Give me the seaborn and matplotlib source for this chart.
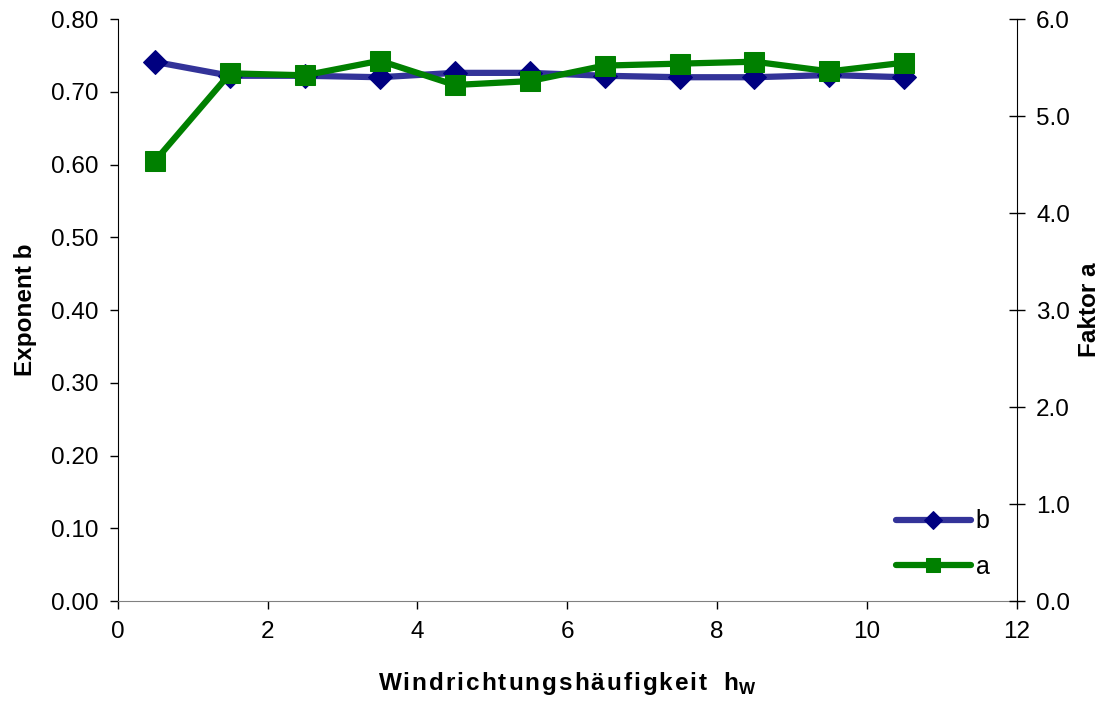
import numpy as np
import pandas as pd
import matplotlib
matplotlib.use('Agg')
import matplotlib.pyplot as plt
import seaborn as sns

# Daten
h_w = [0.5, 1.5, 2.5, 3.5, 4.5, 5.5, 6.5, 7.5, 8.5, 9.5, 10.5]
exponent_b = [0.741, 0.722, 0.722, 0.720, 0.726, 0.726, 0.722, 0.720, 0.720, 0.723, 0.720]
faktor_a = [4.54, 5.44, 5.42, 5.57, 5.32, 5.36, 5.52, 5.54, 5.56, 5.46, 5.55]

df = pd.DataFrame({'h': h_w, 'b': exponent_b, 'a': faktor_a})

sns.set_style('white')
plt.rcParams['font.family'] = ['Liberation Sans', 'DejaVu Sans']
plt.rcParams['mathtext.fontset'] = 'custom'
plt.rcParams['mathtext.rm'] = 'Liberation Sans:bold'
plt.rcParams['mathtext.bf'] = 'Liberation Sans:bold'
plt.rcParams['text.color'] = 'black'
plt.rcParams['axes.labelcolor'] = 'black'
plt.rcParams['xtick.color'] = 'black'
plt.rcParams['ytick.color'] = 'black'

fig, ax = plt.subplots(figsize=(11.11, 7.04), dpi=100)
fig.subplots_adjust(left=0.106, right=0.915, top=0.973, bottom=0.146)
ax2 = ax.twinx()

sns.lineplot(data=df, x='h', y='b', ax=ax, color='#333399', lw=4.5,
             marker='D', markersize=12, markerfacecolor='#000080',
             markeredgecolor='#000080', label='b', legend=False, zorder=3)
sns.lineplot(data=df, x='h', y='a', ax=ax2, color='#008000', lw=4.5,
             marker='s', markersize=14, markerfacecolor='#008000',
             markeredgecolor='#008000', label='a', legend=False, zorder=3)

ax.set_xlim(0, 12)
ax.set_ylim(0, 0.8)
ax2.set_ylim(0, 6)
ax.set_xticks(np.arange(0, 13, 2))
ax.set_yticks(np.arange(0, 0.81, 0.1))
ax.set_yticklabels([f'{v:.2f}' for v in np.arange(0, 0.81, 0.1)])
ax2.set_yticks(np.arange(0, 6.1, 1))
ax2.set_yticklabels([f'{v:.1f}' for v in np.arange(0, 6.1, 1)])

for a_ in (ax, ax2):
    for s in a_.spines.values():
        s.set_visible(False)
ax.spines['left'].set_visible(True)
ax.spines['left'].set_color('black')
ax.spines['bottom'].set_visible(True)
ax.spines['bottom'].set_color('#808080')
ax2.spines['right'].set_visible(True)
ax2.spines['right'].set_color('black')

ax.tick_params(axis='y', direction='out', length=6, width=1, labelsize=17.5, left=True, pad=8)
ax.tick_params(axis='x', direction='out', length=6, width=1, labelsize=17.5, bottom=True, pad=8)
ax2.tick_params(axis='y', direction='inout', length=12, width=1, labelsize=17.5, right=True, pad=8)

ax.set_ylabel('Exponent b', fontsize=17.5, fontweight='bold', labelpad=10)
ax2.set_ylabel('Faktor a', fontsize=17.5, fontweight='bold', labelpad=6)
xlab = '\u200a'.join('Windrichtungshäufigkeit') + '\u2002\u2009' + r'h$_{\mathrm{W}}$'
ax.set_xlabel(xlab, fontsize=17.5, fontweight='bold', labelpad=20)

h1, l1 = ax.get_legend_handles_labels()
h2, l2 = ax2.get_legend_handles_labels()
ax2.legend(h1 + h2, l1 + l2, loc='lower right', bbox_to_anchor=(0.995, 0.0),
           frameon=False, fontsize=18, handlelength=3.0, handletextpad=0.2,
           labelspacing=0.85, markerscale=0.75)

plt.savefig('out.png', dpi=100)
